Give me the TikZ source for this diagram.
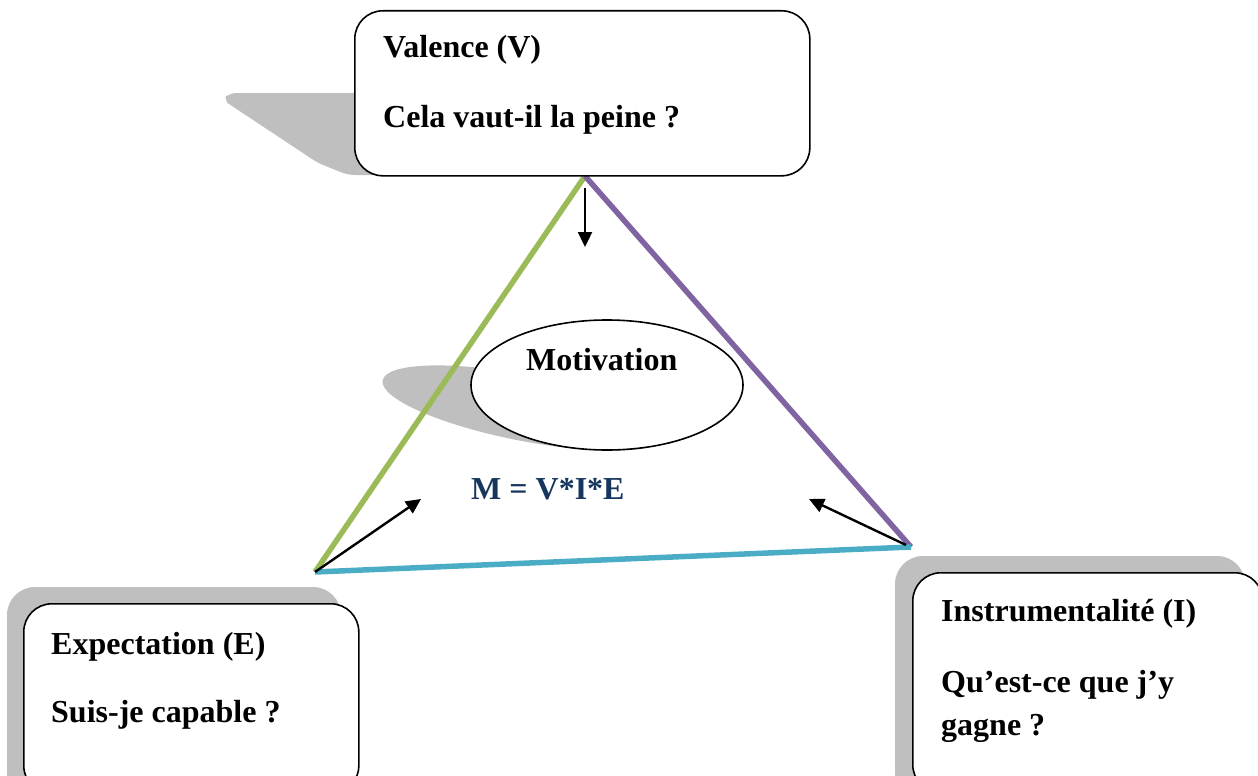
\documentclass[tikz,border=0pt]{standalone}
\usepackage{fontspec}
\setmainfont{Liberation Serif}
\usetikzlibrary{arrows.meta,shapes.geometric}
\definecolor{shadowgray}{HTML}{BFBFBF}
\definecolor{vgreen}{HTML}{9BBB59}
\definecolor{ipurple}{HTML}{8064A2}
\definecolor{eblue}{HTML}{4BACC6}
\definecolor{navy}{HTML}{17365D}
\tikzset{
  card/.style={draw=black, line width=1.6pt, fill=white, rounded corners=28pt},
  cardshadow/.style={fill=shadowgray, rounded corners=28pt},
  label/.style={inner sep=0pt, anchor=base west, font=\fontsize{32}{37}\selectfont\bfseries},
  edge/.style={line width=5.5pt},
  push/.style={line width=2.4pt, -{Triangle[length=15pt,width=14pt]}}
}
\begin{document}
\begin{tikzpicture}[x=1pt,y=-1pt]
\useasboundingbox (0,0) rectangle (1258,776);
\clip (0,0) rectangle (1258,776);

% shadows
\fill[shadowgray, rounded corners=7pt] (420,93) -- (229,93) -- (223,100) -- (318,163) -- (348,175) -- (420,175) -- cycle;
\fill[shadowgray, rotate around={-11:(525,408)}] (525,408) ellipse (145pt and 33pt);
\path[cardshadow] (7,587) rectangle (341,800);
\path[cardshadow] (895,556) rectangle (1245,800);

% triangle
\coordinate (V) at (585,176);
\coordinate (E) at (315,572);
\coordinate (I) at (911,547);
\draw[edge, vgreen] (V) -- (E);
\draw[edge, ipurple] (V) -- (I);
\draw[edge, eblue] (E) -- (I);

% cards
\node[card, minimum width=455pt, minimum height=165pt, anchor=north west] (valence) at (354,10) {};
\node[card, minimum width=335pt, minimum height=190pt, anchor=north west] (expect) at (23,603) {};
\node[card, minimum width=350pt, minimum height=220pt, anchor=north west] (instr) at (912,572) {};
\node[draw=black, line width=1.6pt, fill=white, ellipse, minimum width=272pt, minimum height=130pt] (motiv) at (607,385) {};

% texts
\node[label] (vt1) at (383,58) {Valence (V)};
\node[label] (vt2) at (383,127) {Cela vaut-il la peine ?};
\node[label] (mt) at (526,370) {Motivation};
\node[label, text=navy] (formula) at (471,499) {M = V*I*E};
\node[label] (et1) at (51,654) {Expectation (E)};
\node[label] (et2) at (51,722) {Suis-je capable ?};
\node[label] (it1) at (941,621) {Instrumentalité (I)};
\node[label] (it2) at (941,692) {Qu’est-ce que j’y};
\node[label] (it3) at (941,735) {gagne ?};

% arrows toward the centre
\coordinate (vs) at (585,188);
\coordinate (vt) at (585,247);
\coordinate (et) at (421,499);
\coordinate (it) at (809,499);
\draw[push] (vs) -- (vt);
\draw[push] (E) -- (et);
\draw[push] (I) ++(-5,-2) coordinate (is) (is) -- (it);
\end{tikzpicture}
\end{document}
